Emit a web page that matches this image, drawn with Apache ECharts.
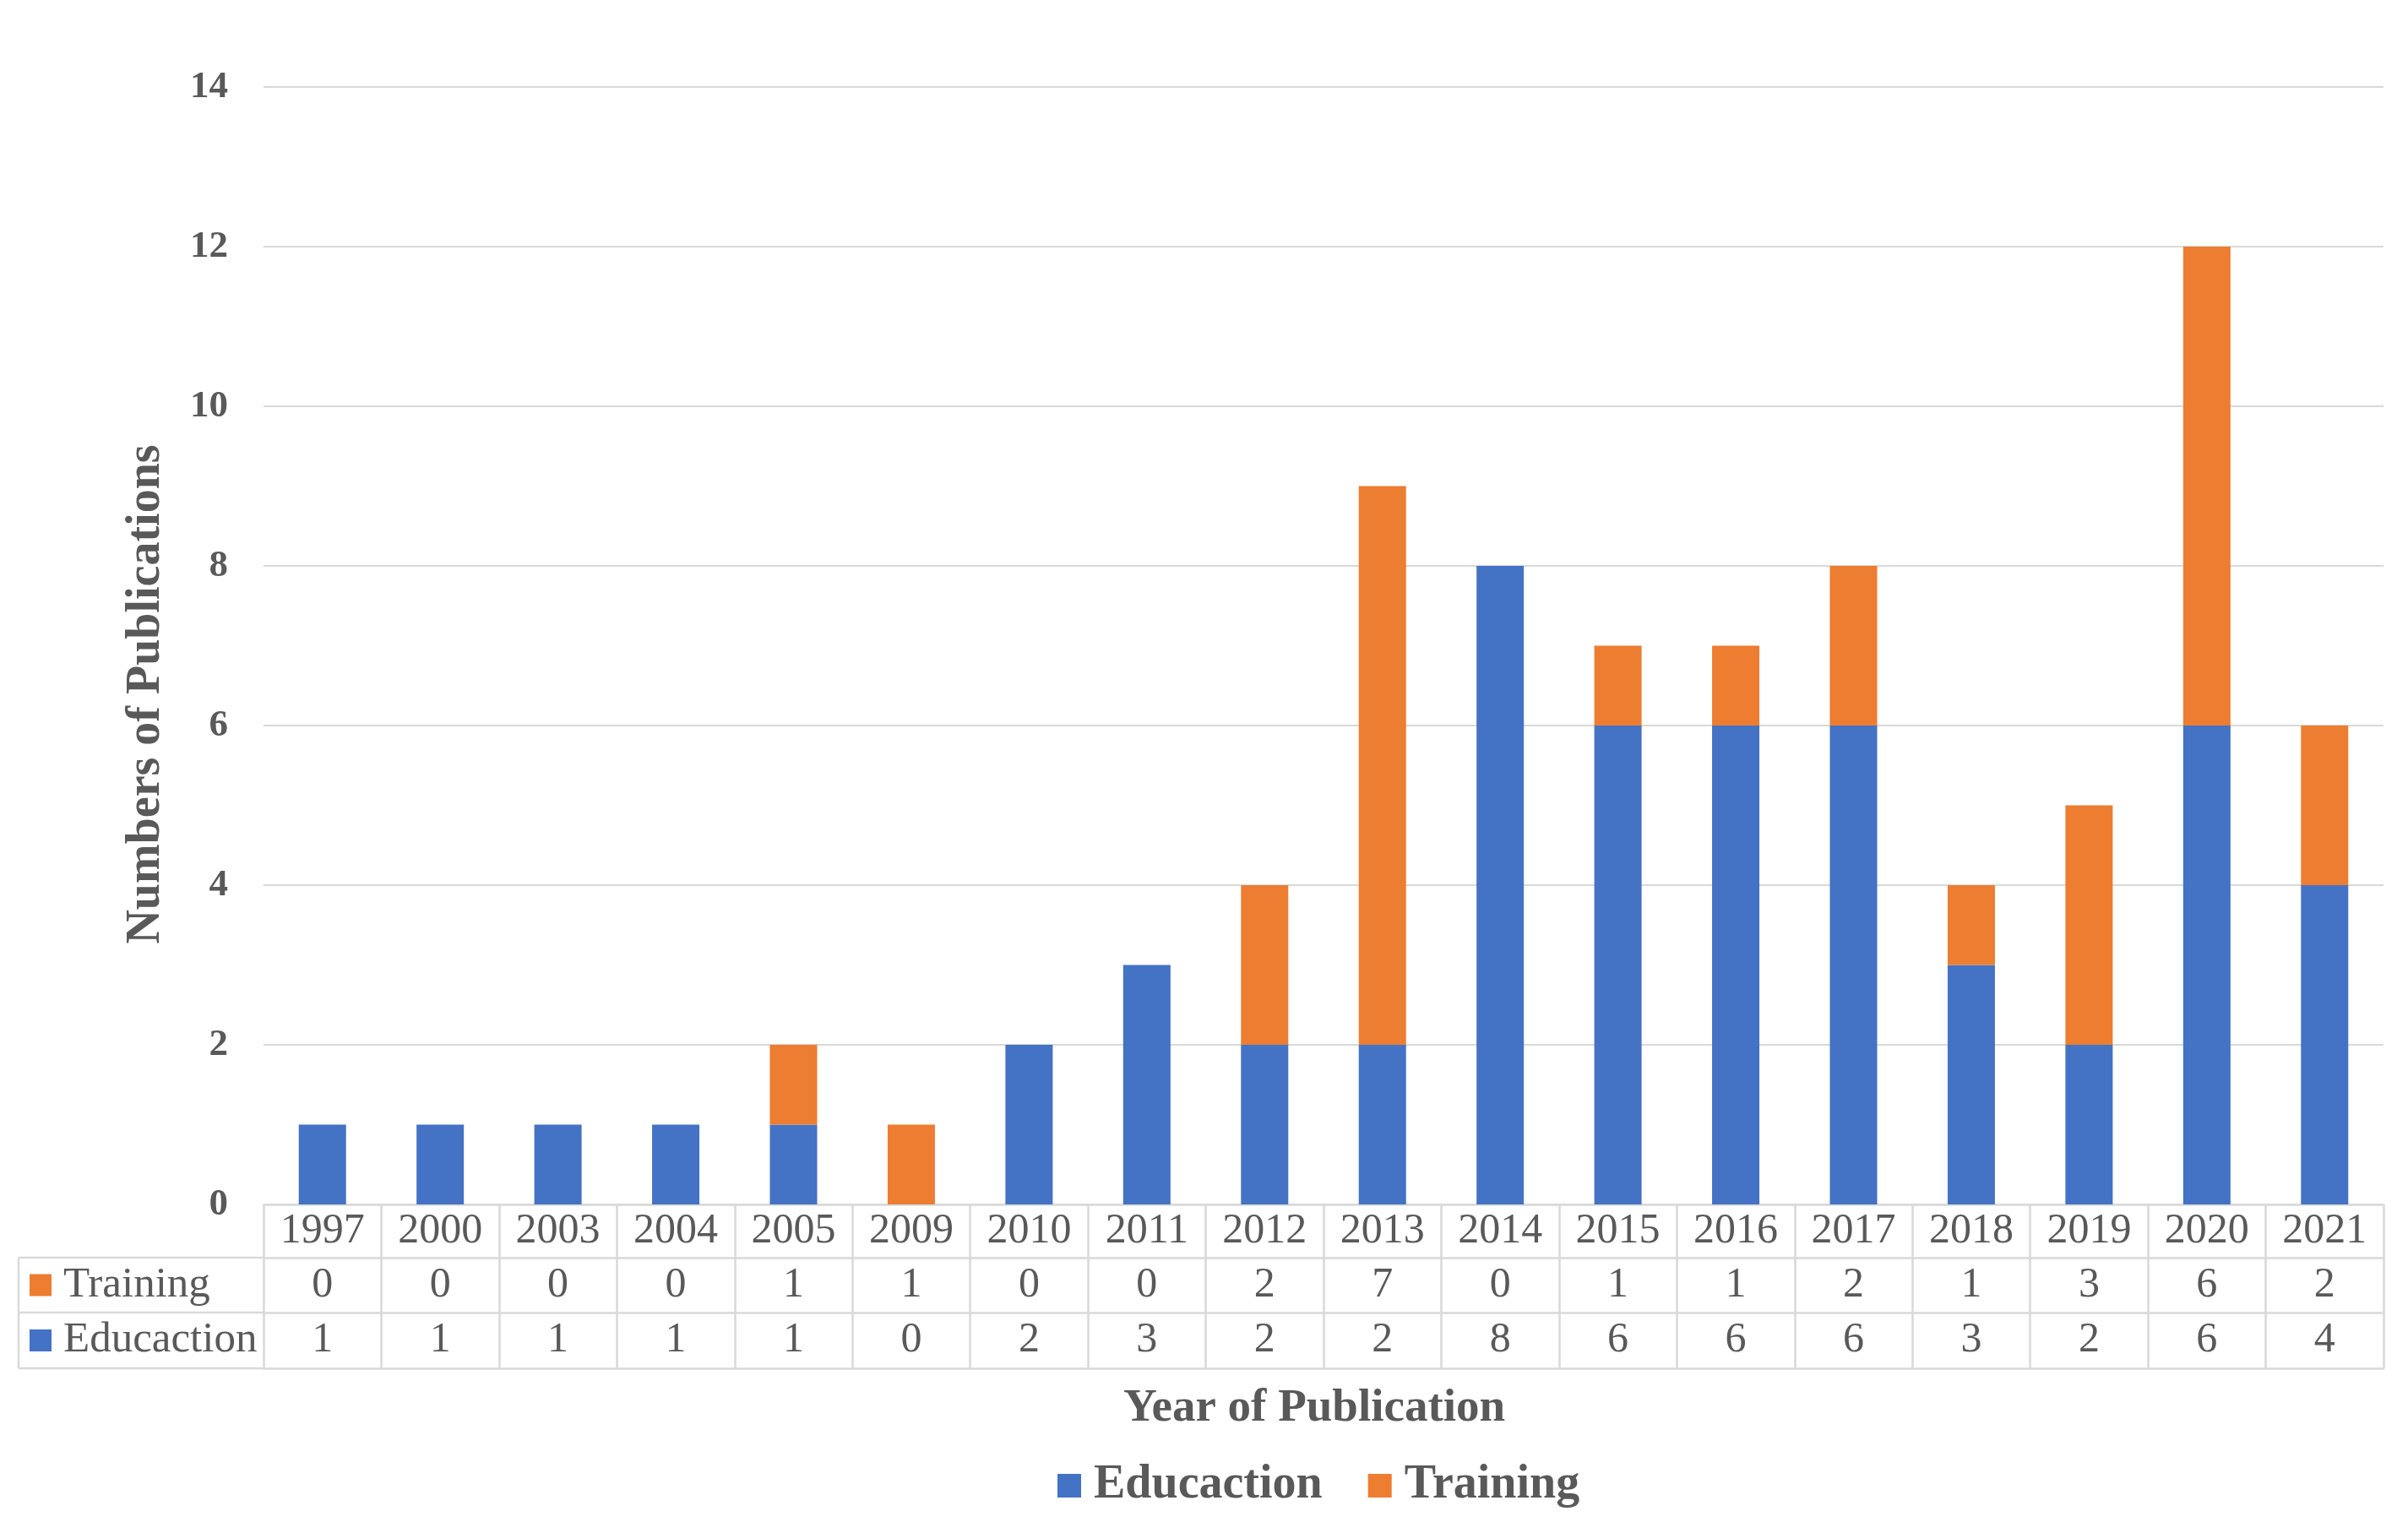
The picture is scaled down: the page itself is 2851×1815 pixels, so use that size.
<!DOCTYPE html>
<html>
<head>
<meta charset="utf-8">
<script src="https://cdn.jsdelivr.net/npm/echarts@6/dist/echarts.min.js"></script>
<style>
html,body{margin:0;padding:0;background:#fff;}
#chart{width:2851px;height:1815px;}
</style>
</head>
<body>
<div id="chart"></div>
<script>
const years = ['1997','2000','2003','2004','2005','2009','2010','2011','2012','2013','2014','2015','2016','2017','2018','2019','2020','2021'];
const education = [1,1,1,1,1,0,2,3,2,2,8,6,6,6,3,2,6,4];
const training = [0,0,0,0,1,1,0,0,2,7,0,1,1,2,1,3,6,2];
const yTicks = {min:0, max:14, interval:2};

const FONT = "'Liberation Serif', 'Times New Roman', serif";
const TXT = '#595959';
const LINE = '#d9d9d9';
const BLUE = '#4472C4';
const ORANGE = '#ED7D31';

const W = 2851, H = 1815;
const GL = 312, GR = 2822, GT = 103, GB = 1426;
const ROW0 = 63, ROW1 = 65, ROW2 = 66;
const TL = 22;

const chart = echarts.init(document.getElementById('chart'), null, {renderer:'canvas'});

function tableAxis(data, offset, rowH, showLabel, showTick) {
  return {
    type:'category', data:data, position:'bottom', offset:offset, gridIndex:0,
    axisLine:{show:true, lineStyle:{color:LINE, width:2.5}},
    axisTick:{show:showTick, length:rowH, interval:0, lineStyle:{color:LINE, width:2.5}},
    axisLabel:{show:showLabel, interval:0, margin:rowH/2, verticalAlign:'middle',
      fontFamily:FONT, fontSize:50, color:TXT},
    splitLine:{show:false}
  };
}

const y1 = GB + ROW0, y2 = y1 + ROW1, y3 = y2 + ROW2;

chart.setOption({
  backgroundColor:'#fff',
  animation:false,
  grid:{left:GL, right:W-GR, top:GT, bottom:H-GB, containLabel:false},
  legend:{
    data:['Educaction','Training'],
    left:1247, top:1726,
    icon:'rect', itemWidth:28, itemHeight:28, itemGap:54,
    textStyle:{fontFamily:FONT, fontSize:56, fontWeight:'bold', color:TXT, padding:[0,0,0,10]}
  },
  xAxis:[
    tableAxis(years, 0, ROW0, true, true),
    tableAxis(training.map(String), ROW0, ROW1, true, true),
    tableAxis(education.map(String), ROW0+ROW1, ROW2, true, true),
    tableAxis(years, ROW0+ROW1+ROW2, 0, false, false)
  ],
  yAxis:{
    type:'value', min:yTicks.min, max:yTicks.max, interval:yTicks.interval,
    axisLine:{show:false}, axisTick:{show:false},
    axisLabel:{margin:42, fontFamily:FONT, fontSize:45, fontWeight:'bold', color:TXT},
    splitLine:{lineStyle:{color:LINE, width:2}}
  },
  series:[
    {name:'Educaction', type:'bar', stack:'total', data:education, barWidth:56, xAxisIndex:0,
     itemStyle:{color:BLUE}},
    {name:'Training', type:'bar', stack:'total', data:training, barWidth:56, xAxisIndex:0,
     itemStyle:{color:ORANGE}}
  ],
  graphic:[
    {type:'line', shape:{x1:TL, y1:y1, x2:GL, y2:y1}, style:{stroke:LINE, lineWidth:2.5}},
    {type:'line', shape:{x1:TL, y1:y2, x2:GL, y2:y2}, style:{stroke:LINE, lineWidth:2.5}},
    {type:'line', shape:{x1:TL, y1:y3, x2:GL, y2:y3}, style:{stroke:LINE, lineWidth:2.5}},
    {type:'line', shape:{x1:TL, y1:y1, x2:TL, y2:y3}, style:{stroke:LINE, lineWidth:2.5}},
    {type:'rect', shape:{x:35, y:(y1+y2)/2-13, width:26, height:26}, style:{fill:ORANGE}},
    {type:'rect', shape:{x:35, y:(y2+y3)/2-13, width:26, height:26}, style:{fill:BLUE}},
    {type:'text', x:75, y:(y1+y2)/2, style:{text:'Training', fontFamily:FONT, fontSize:51, fill:TXT, textVerticalAlign:'middle', textAlign:'left'}},
    {type:'text', x:75, y:(y2+y3)/2, style:{text:'Educaction', fontFamily:FONT, fontSize:51, fill:TXT, textVerticalAlign:'middle', textAlign:'left'}},
    {type:'text', x:174, y:822, rotation:Math.PI/2, style:{text:'Numbers of Publications', fontFamily:FONT, fontSize:56, fontWeight:'bold', fill:TXT, textAlign:'center', textVerticalAlign:'middle'}},
    {type:'text', x:1556, y:1668, style:{text:'Year of Publication', fontFamily:FONT, fontSize:55, fontWeight:'bold', fill:TXT, textAlign:'center', textVerticalAlign:'middle'}}
  ]
});
</script>
</body>
</html>
